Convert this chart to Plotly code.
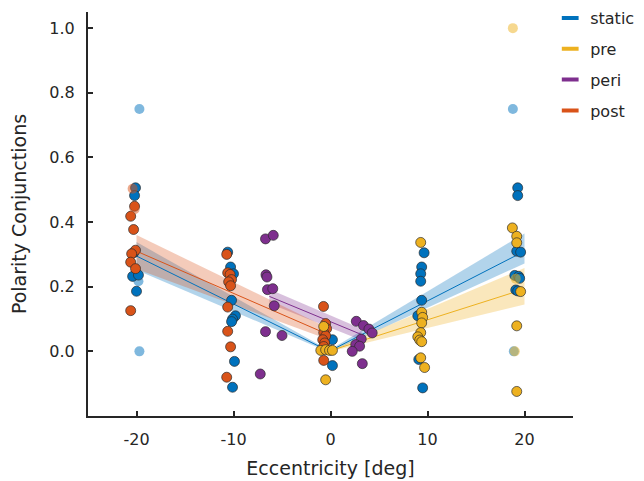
import plotly.graph_objects as go

# ---------------- data ----------------
series_names = ["static", "pre", "peri", "post"]
colors = {"static": "#0072BD", "pre": "#EDB120", "peri": "#7E2F8E", "post": "#D95319"}
light_colors = {"static": "rgba(0,114,189,0.5)", "pre": "rgba(237,177,32,0.5)",
                "post": "rgba(217,83,25,0.5)"}
band_colors = {"static": "rgba(0,114,189,0.3)", "pre": "rgba(237,177,32,0.3)",
               "peri": "rgba(126,47,142,0.3)", "post": "rgba(217,83,25,0.3)"}

static_x = [-20.1, -20.2, -20.3, -20.4, -19.8, -20.0,
            -10.6, -10.3, -10.0, -10.2, -9.8, -10.1, -10.2, -9.9, -10.1,
            0.2, 0.2,
            9.65, 9.4, 9.3, 9.3, 9.4, 9.0, 9.1, 9.5,
            19.3, 19.3, 19.2, 19.6, 19.0, 19.4, 19.5, 19.1, 19.3]
static_y = [0.506, 0.482, 0.305, 0.232, 0.236, 0.186,
            0.307, 0.261, 0.240, 0.158, 0.110, 0.100, 0.092, -0.031, -0.111,
            0.036, -0.044,
            0.305, 0.261, 0.240, 0.217, 0.158, 0.110, -0.025, -0.113,
            0.506, 0.482, 0.310, 0.307, 0.235, 0.232, 0.226, 0.190, 0.187]
static_light_x = [-19.7, -19.7, -19.8, 18.8, 18.9]
static_light_y = [0.75, 0.0, 0.217, 0.75, 0.0]

pre_x = [-0.7, -1.0, -0.5, -0.1, 0.2, -0.5,
         9.3, 9.4, 9.5, 9.4, 9.3, 9.0, 9.2, 9.4, 9.3, 9.7,
         18.75, 19.2, 19.2, 19.6, 19.2, 19.2]
pre_y = [0.077, 0.003, 0.005, 0.003, 0.003, -0.088,
         0.337, 0.121, 0.105, 0.088, 0.058, 0.045, 0.035, 0.030, -0.020, -0.050,
         0.382, 0.356, 0.336, 0.185, 0.079, -0.124]
pre_light_x = [18.8, 19.0, 19.1]
pre_light_y = [1.0, 0.0, 0.225]

peri_x = [-6.7, -5.9, -6.65, -6.55, -6.5, -5.95, -5.8, -6.7, -5.0, -7.24,
          2.66, 3.4, 3.96, 4.3, 3.17, 2.6, 3.0, 2.24, 3.28]
peri_y = [0.348, 0.359, 0.237, 0.230, 0.191, 0.194, 0.141, 0.061, 0.049, -0.070,
          0.093, 0.080, 0.069, 0.057, 0.038, 0.021, 0.016, 0.000, -0.038]

post_x = [-20.2, -20.6, -20.3, -20.1, -20.5, -20.6, -20.1, -20.6,
          -10.7, -10.6, -10.35, -10.2, -10.5, -10.3, -10.6, -10.6, -10.3, -10.7,
          -0.72, -0.5, -0.4, -0.7, -0.5, -0.8, -0.6, -0.7, -0.7]
post_y = [0.449, 0.418, 0.377, 0.313, 0.302, 0.276, 0.256, 0.126,
          0.300, 0.243, 0.238, 0.222, 0.215, 0.203, 0.137, 0.062, 0.014, -0.080,
          0.139, 0.086, 0.070, 0.058, 0.048, 0.036, 0.026, 0.015, -0.028]
post_light_x = [-20.4, -20.2]
post_light_y = [0.503, 0.440]

# regression fits: segment end x, centre y, lower and upper band
fit_static_left = dict(x=[-20, -0.8], y=[0.295, 0.010], lo=[0.252, 0.006], hi=[0.338, 0.014])
fit_static_right = dict(x=[0.5, 20], y=[0.010, 0.310], lo=[0.005, 0.272], hi=[0.015, 0.365])
fit_pre_right = dict(x=[0.3, 20], y=[0.005, 0.193], lo=[0.002, 0.145], hi=[0.008, 0.258])
fit_peri = dict(x=[-6.3, 3.2], y=[0.170, 0.052], lo=[0.148, 0.034], hi=[0.192, 0.070])
fit_post_left = dict(x=[-20, -1.0], y=[0.310, 0.062], lo=[0.255, 0.045], hi=[0.360, 0.083])

fits = [("static", fit_static_left), ("static", fit_static_right),
        ("pre", fit_pre_right), ("peri", fit_peri), ("post", fit_post_left)]

x_ticks = [-20, -10, 0, 10, 20]
x_ticklabels = ["-20", "-10", "0", "10", "20"]
y_ticks = [0.0, 0.2, 0.4, 0.6, 0.8, 1.0]
y_ticklabels = ["0.0", "0.2", "0.4", "0.6", "0.8", "1.0"]

# ---------------- figure ----------------
fig = go.Figure()

for name, f in fits:
    fig.add_trace(go.Scatter(
        x=f["x"] + f["x"][::-1], y=f["hi"] + f["lo"][::-1],
        fill="toself", fillcolor=band_colors[name], line=dict(width=0),
        mode="lines", hoverinfo="skip", showlegend=False))
for name, f in fits:
    fig.add_trace(go.Scatter(x=f["x"], y=f["y"], mode="lines",
                             line=dict(color=colors[name], width=1),
                             hoverinfo="skip", showlegend=False))

edge = dict(color="rgba(40,40,40,0.85)", width=0.8)
msize = 10

def pts(x, y, color, line=edge):
    fig.add_trace(go.Scatter(x=x, y=y, mode="markers",
                             marker=dict(size=msize, color=color, line=line),
                             showlegend=False))

nol = dict(width=0)
pts(static_light_x, static_light_y, light_colors["static"], nol)
pts(static_x, static_y, colors["static"])
pts(post_x, post_y, colors["post"])
pts(post_light_x, post_light_y, light_colors["post"], nol)
pts(peri_x, peri_y, colors["peri"])
pts(pre_x, pre_y, colors["pre"])
pts(pre_light_x, pre_light_y, light_colors["pre"], nol)

for i, name in enumerate(series_names):
    fig.add_trace(go.Scatter(
        x=[None], y=[None], mode="markers", name=name, legendgroup=name,
        marker=dict(symbol="line-ew", size=12, color=colors[name],
                    line=dict(color=colors[name], width=4))))

font_col = "#262626"
fig.update_layout(
    width=636, height=473,
    margin=dict(l=80, r=71, t=4, b=65, autoexpand=False),
    paper_bgcolor="white", plot_bgcolor="white",
    font=dict(family="DejaVu Sans", size=16, color=font_col),
    showlegend=True,
    legend=dict(x=0.953, y=1.027, xanchor="left", yanchor="top",
                font=dict(size=16, color=font_col), tracegroupgap=7,
                bgcolor="rgba(0,0,0,0)", itemwidth=30),
    xaxis=dict(range=[-25, 25], tickvals=x_ticks, ticktext=x_ticklabels,
               showgrid=False, zeroline=False, showline=True,
               linecolor=font_col, linewidth=2, ticks="inside", ticklen=5,
               tickwidth=1.5, tickcolor=font_col, ticklabelstandoff=8,
               title=dict(text="Eccentricity [deg]", standoff=13)),
    yaxis=dict(range=[-0.2, 1.05], tickvals=y_ticks, ticktext=y_ticklabels,
               showgrid=False, zeroline=False, showline=True,
               linecolor=font_col, linewidth=2, ticks="inside", ticklen=5,
               tickwidth=1.5, tickcolor=font_col, ticklabelstandoff=8,
               title=dict(text="Polarity Conjunctions", standoff=28)),
)

fig.write_html("out.html")
